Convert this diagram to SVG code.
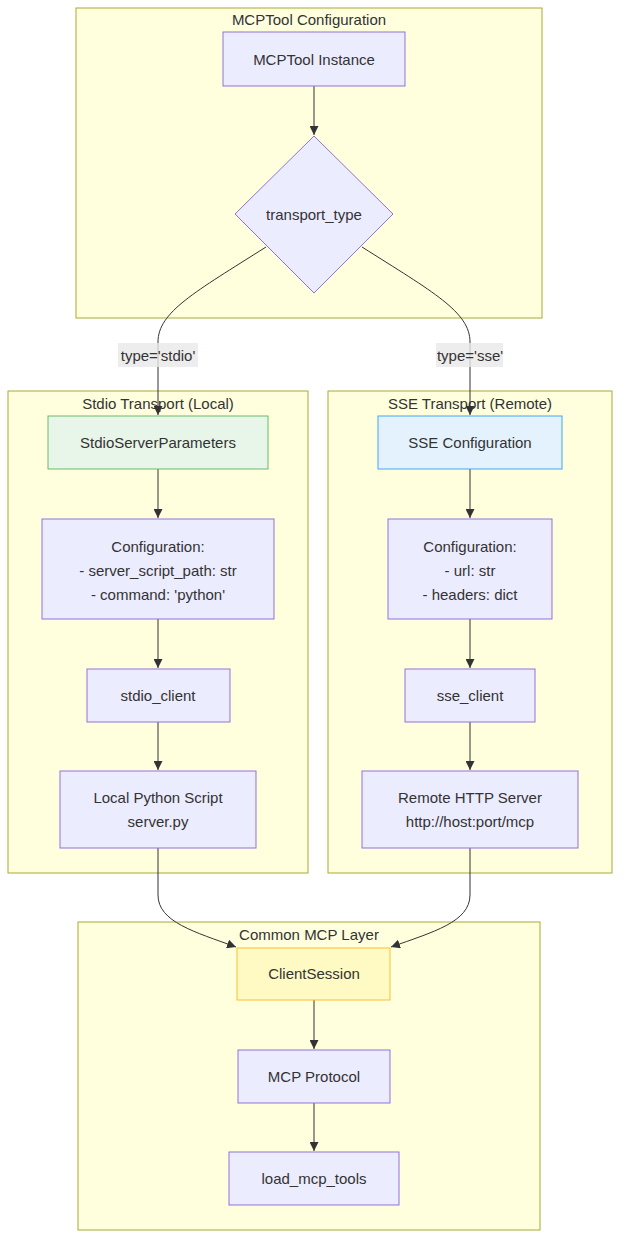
<svg xmlns="http://www.w3.org/2000/svg" width="628" height="1255" viewBox="0 0 628 1255">
<style>
.cl{fill:#ffffde;stroke:#aaaa33;stroke-width:1}
.nd{fill:#ececff;stroke:#9370db;stroke-width:1}
.t{font-family:"Liberation Sans",Arial,sans-serif;font-size:15px;fill:#333;text-anchor:middle;dominant-baseline:central}
.e{fill:none;stroke:#333;stroke-width:1}
.lb{fill:#e8e8e8;fill-opacity:0.8}
</style>
<defs>
<marker id="ah" viewBox="0 0 10 10" refX="10" refY="5" markerWidth="9" markerHeight="9" markerUnits="userSpaceOnUse" orient="auto">
<path d="M0,0 L10,5 L0,10 z" fill="#333"/>
</marker>
</defs>
<rect width="628" height="1255" fill="#ffffff"/>
<g id="cluster-config">
<rect class="cl" x="76" y="8" width="466" height="310"/>
<text class="t" x="309" y="19">MCPTool Configuration</text>
</g>
<g id="cluster-stdio">
<rect class="cl" x="8" y="391" width="300" height="482"/>
<text class="t" x="158" y="403">Stdio Transport (Local)</text>
</g>
<g id="cluster-sse">
<rect class="cl" x="328" y="391" width="284" height="482"/>
<text class="t" x="470" y="403">SSE Transport (Remote)</text>
</g>
<g id="cluster-common">
<rect class="cl" x="78" y="922" width="462" height="308"/>
<text class="t" x="309" y="934">Common MCP Layer</text>
</g>
<g id="connectors">
<path class="e" d="M314,86 L314,135" marker-end="url(#ah)"/>
<path class="e" d="M266,247 C195,292 158,312 158,342 L158,415" marker-end="url(#ah)"/>
<path class="e" d="M362,247 C433,292 470,312 470,342 L470,415" marker-end="url(#ah)"/>
<path class="e" d="M158,469 L158,518" marker-end="url(#ah)"/>
<path class="e" d="M470,469 L470,518" marker-end="url(#ah)"/>
<path class="e" d="M158,619 L158,668" marker-end="url(#ah)"/>
<path class="e" d="M470,619 L470,668" marker-end="url(#ah)"/>
<path class="e" d="M158,722 L158,770" marker-end="url(#ah)"/>
<path class="e" d="M470,722 L470,770" marker-end="url(#ah)"/>
<path class="e" d="M158,848 L158,895 C158,922 195,932 236,947" marker-end="url(#ah)"/>
<path class="e" d="M470,848 L470,895 C470,922 433,932 391,947" marker-end="url(#ah)"/>
<path class="e" d="M314,1000 L314,1049" marker-end="url(#ah)"/>
<path class="e" d="M314,1103 L314,1151" marker-end="url(#ah)"/>
<rect class="lb" x="118" y="343" width="80" height="24"/>
<text class="t" x="158" y="355">type='stdio'</text>
<rect class="lb" x="436" y="343" width="67" height="24"/>
<text class="t" x="470" y="355">type='sse'</text>
</g>
<g id="node-instance">
<rect class="nd" x="223" y="32" width="182" height="54"/>
<text class="t" x="314" y="59">MCPTool Instance</text>
</g>
<g id="node-transport-type">
<polygon class="nd" points="314,136 393,214 314,293 235,214"/>
<text class="t" x="314" y="214">transport_type</text>
</g>
<g id="node-stdio-params">
<rect x="48" y="416" width="220" height="53" fill="#e8f5e9" stroke="#66bb6a" stroke-width="1"/>
<text class="t" x="158" y="442">StdioServerParameters</text>
</g>
<g id="node-sse-config">
<rect x="378" y="416" width="184" height="53" fill="#e3f2fd" stroke="#42a5f5" stroke-width="1"/>
<text class="t" x="470" y="442">SSE Configuration</text>
</g>
<g id="node-stdio-conf">
<rect class="nd" x="42" y="519" width="232" height="100"/>
<text class="t" x="158" y="546">Configuration:</text>
<text class="t" x="158" y="570">- server_script_path: str</text>
<text class="t" x="158" y="594">- command: 'python'</text>
</g>
<g id="node-sse-conf">
<rect class="nd" x="388" y="519" width="164" height="100"/>
<text class="t" x="470" y="546">Configuration:</text>
<text class="t" x="470" y="570">- url: str</text>
<text class="t" x="470" y="594">- headers: dict</text>
</g>
<g id="node-stdio-client">
<rect class="nd" x="87" y="669" width="143" height="53"/>
<text class="t" x="158" y="695">stdio_client</text>
</g>
<g id="node-sse-client">
<rect class="nd" x="405" y="669" width="130" height="53"/>
<text class="t" x="470" y="695">sse_client</text>
</g>
<g id="node-local-script">
<rect class="nd" x="60" y="771" width="196" height="77"/>
<text class="t" x="158" y="797">Local Python Script</text>
<text class="t" x="158" y="821">server.py</text>
</g>
<g id="node-remote-server">
<rect class="nd" x="362" y="771" width="216" height="77"/>
<text class="t" x="470" y="797">Remote HTTP Server</text>
<text class="t" x="470" y="821">http://host:port/mcp</text>
</g>
<g id="node-client-session">
<rect x="237" y="948" width="153" height="52" fill="#fff9c4" stroke="#fbc02d" stroke-width="1"/>
<text class="t" x="314" y="973">ClientSession</text>
</g>
<g id="node-mcp-protocol">
<rect class="nd" x="238" y="1050" width="152" height="53"/>
<text class="t" x="314" y="1076">MCP Protocol</text>
</g>
<g id="node-load-tools">
<rect class="nd" x="229" y="1152" width="170" height="53"/>
<text class="t" x="314" y="1178">load_mcp_tools</text>
</g>
</svg>
